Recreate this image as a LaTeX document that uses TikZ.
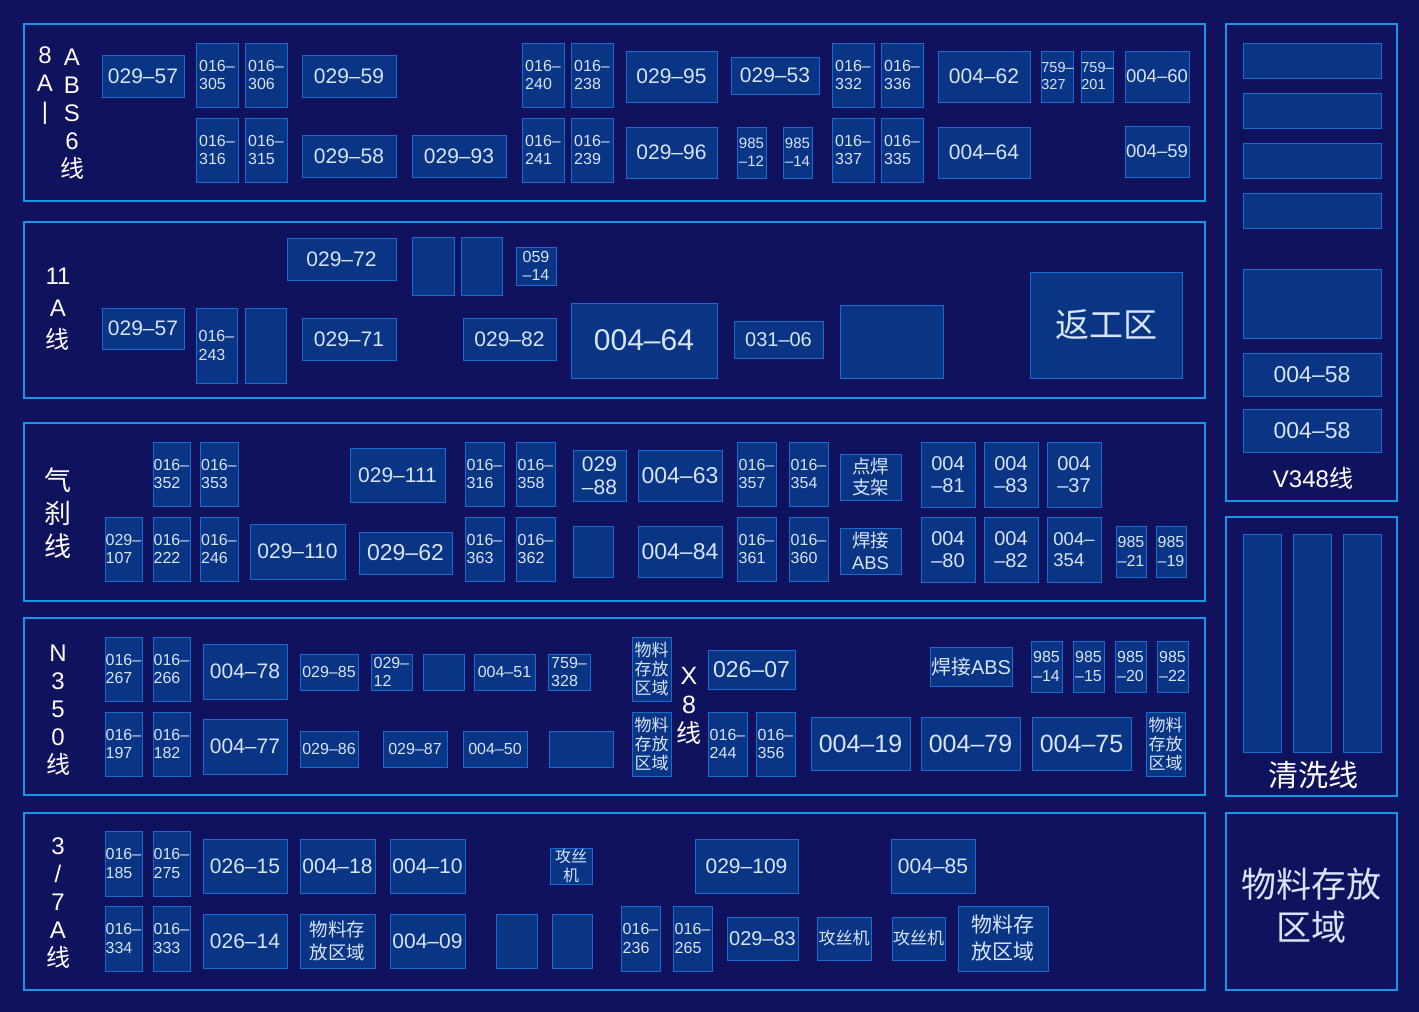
\documentclass[tikz,border=0pt]{standalone}
\usepackage{fontspec}
\setmainfont{Liberation Sans}
\newfontfamily\cjk{Noto Sans CJK SC}
\usepackage{tikz}
\usetikzlibrary{positioning}
\definecolor{bgnavy}{RGB}{16,18,94}
\definecolor{unitfill}{RGB}{10,52,132}
\definecolor{unitline}{RGB}{22,108,212}
\definecolor{panelline}{RGB}{22,150,232}
\definecolor{unittext}{RGB}{215,228,250}

\begin{document}
\begin{tikzpicture}[x=1pt,y=-1pt]
  % Styles for panels, machine boxes and line labels
  \tikzset{panel/.style={draw=panelline, line width=2pt}}
  \tikzset{unit/.style={draw=unitline, fill=unitfill, line width=1pt, inner sep=0pt, text=unittext, align=center}}
  \tikzset{dims/.style 2 args={minimum width=#1, minimum height=#2}}
  \tikzset{tag/.style={text=white, align=center, inner sep=0pt}}
  \tikzset{f14/.style={font=\fontsize{14.5}{17}\selectfont},
           f15/.style={font=\fontsize{15}{17.5}\selectfont},
           f16/.style={font=\fontsize{16}{18.5}\selectfont},
           f17/.style={font=\fontsize{17}{19}\selectfont},
           f18/.style={font=\fontsize{18.5}{21.5}\selectfont},
           f18w/.style={font=\fontsize{18.5}{23}\selectfont},
           f20/.style={font=\fontsize{20}{22}\selectfont},
           f21/.style={font=\fontsize{21}{23}\selectfont},
           f21w/.style={font=\fontsize{21}{27}\selectfont},
           f23/.style={font=\fontsize{23}{26}\selectfont},
           f25/.style={font=\fontsize{25}{28}\selectfont},
           f30/.style={font=\fontsize{30}{34}\selectfont},
           f34/.style={font=\fontsize{34}{40}\selectfont}}

  \fill[bgnavy] (0,0) rectangle (1419,1012);
  \useasboundingbox (0,0) rectangle (1419,1012);

  % Panels
  \draw[panel] (24,24) rectangle (1205,201);
  \draw[panel] (24,222) rectangle (1205,398);
  \draw[panel] (24,423) rectangle (1205,601);
  \draw[panel] (24,618) rectangle (1205,795);
  \draw[panel] (24,813) rectangle (1205,990);
  \draw[panel] (1226,24) rectangle (1397,501);
  \draw[panel] (1226,517) rectangle (1397,796);
  \draw[panel] (1226,813) rectangle (1397,990);

  % Row 1: 8A-ABS6
  \node[tag, font=\fontsize{24}{28}\selectfont] (r1_lab_a) at (45,86) {8\\A\\|};
  \node[tag, font=\fontsize{24}{28}\selectfont] (r1_lab_b) at (72,114) {A\\B\\S\\6\\{\cjk 线}};
  \node[unit, dims={82}{42}, f21] (r1_029_57) at (143,76) {029--57};
  \node[unit, dims={42}{64}, f16, align=left] (r1_016_305) at (217,75) {016--\\305};
  \node[unit, dims={42}{64}, f16, align=left] (r1_016_306) at (266,75) {016--\\306};
  \node[unit, dims={94}{42}, f21] (r1_029_59) at (349,76) {029--59};
  \node[unit, dims={42}{64}, f16, align=left] (r1_016_240) at (543,75) {016--\\240};
  \node[unit, dims={42}{64}, f16, align=left] (r1_016_238) at (592,75) {016--\\238};
  \node[unit, dims={91}{51}, f21] (r1_029_95) at (671.5,76.5) {029--95};
  \node[unit, dims={88}{37}, f21] (r1_029_53) at (775,75.5) {029--53};
  \node[unit, dims={42}{64}, f16, align=left] (r1_016_332) at (853,75) {016--\\332};
  \node[unit, dims={42}{64}, f16, align=left] (r1_016_336) at (902,75) {016--\\336};
  \node[unit, dims={92}{51}, f21] (r1_004_62) at (984,76.5) {004--62};
  \node[unit, dims={29}{51}, f14, align=left] (r1_759_327) at (1057.5,76.5) {759--\\327};
  \node[unit, dims={29}{51}, f14, align=left] (r1_759_201) at (1097.5,76.5) {759--\\201};
  \node[unit, dims={64}{51}, f18] (r1_004_60) at (1157,76.5) {004--60};
  \node[unit, dims={42}{64}, f16, align=left] (r1_016_316) at (217,150) {016--\\316};
  \node[unit, dims={42}{64}, f16, align=left] (r1_016_315) at (266,150) {016--\\315};
  \node[unit, dims={94}{42}, f21] (r1_029_58) at (349,156) {029--58};
  \node[unit, dims={94}{42}, f21] (r1_029_93) at (459,156) {029--93};
  \node[unit, dims={42}{64}, f16, align=left] (r1_016_241) at (543,150) {016--\\241};
  \node[unit, dims={42}{64}, f16, align=left] (r1_016_239) at (592,150) {016--\\239};
  \node[unit, dims={91}{51}, f21] (r1_029_96) at (671.5,152.5) {029--96};
  \node[unit, dims={29}{51}, f15] (r1_985_12) at (751.5,152.5) {985\\--12};
  \node[unit, dims={29}{51}, f15] (r1_985_14) at (797.5,152.5) {985\\--14};
  \node[unit, dims={42}{64}, f16, align=left] (r1_016_337) at (853,150) {016--\\337};
  \node[unit, dims={42}{64}, f16, align=left] (r1_016_335) at (902,150) {016--\\335};
  \node[unit, dims={92}{51}, f21] (r1_004_64) at (984,152.5) {004--64};
  \node[unit, dims={64}{51}, f18] (r1_004_59) at (1157,151.5) {004--59};

  % Row 2: 11A
  \node[tag, font=\fontsize{24}{32}\selectfont] (r2_lab) at (58,309.5) {11\\A\\{\cjk 线}};
  \node[unit, dims={109}{42}, f21] (r2_029_72) at (341.5,259) {029--72};
  \node[unit, dims={42}{58}] (r2_e1) at (433,266) {};
  \node[unit, dims={41}{58}] (r2_e2) at (481.5,266) {};
  \node[unit, dims={40}{38}, f16] (r2_059_14) at (536,266) {059\\--14};
  \node[unit, dims={82}{41}, f21] (r2_029_57) at (143,328.5) {029--57};
  \node[unit, dims={41}{75}, f16, align=left] (r2_016_243) at (216.5,345.5) {016--\\243};
  \node[unit, dims={41}{75}] (r2_e3) at (265.5,345.5) {};
  \node[unit, dims={94}{42}, f21] (r2_029_71) at (349,339) {029--71};
  \node[unit, dims={93}{42}, f21] (r2_029_82) at (509.5,339) {029--82};
  \node[unit, dims={146}{75}, f30] (r2_004_64) at (644,340.5) {004--64};
  \node[unit, dims={89}{37}, f20] (r2_031_06) at (778.5,339.5) {031--06};
  \node[unit, dims={103}{73}] (r2_e4) at (891.5,341.5) {};
  \node[unit, dims={152}{106}, f34] (r2_rework) at (1106,325) {\cjk 返工区};

  % Row 3: gas brake line
  \node[tag, font=\fontsize{27}{33}\selectfont] (r3_lab) at (58,513) {\cjk 气\\\cjk 刹\\\cjk 线};
  \node[unit, dims={37}{64}, f16, align=left] (r3_016_352) at (171.5,474) {016--\\352};
  \node[unit, dims={38}{64}, f16, align=left] (r3_016_353) at (219,474) {016--\\353};
  \node[unit, dims={95}{54}, f21] (r3_029_111) at (397.5,475) {029--111};
  \node[unit, dims={39}{64}, f16, align=left] (r3_016_316) at (484.5,474) {016--\\316};
  \node[unit, dims={39}{64}, f16, align=left] (r3_016_358) at (535.5,474) {016--\\358};
  \node[unit, dims={53}{51}, f21] (r3_029_88) at (599.5,475.5) {029\\--88};
  \node[unit, dims={84}{51}, f23] (r3_004_63) at (680,475.5) {004--63};
  \node[unit, dims={39}{64}, f16, align=left] (r3_016_357) at (756.5,474) {016--\\357};
  \node[unit, dims={39}{64}, f16, align=left] (r3_016_354) at (808.5,474) {016--\\354};
  \node[unit, dims={61}{46}, f18] (r3_spot) at (870.5,477) {\cjk 点焊\\\cjk 支架};
  \node[unit, dims={54}{65}, f20] (r3_004_81) at (948,474.5) {004\\--81};
  \node[unit, dims={54}{65}, f20] (r3_004_83) at (1011,474.5) {004\\--83};
  \node[unit, dims={54}{65}, f20] (r3_004_37) at (1074,474.5) {004\\--37};
  \node[unit, dims={37}{64}, f16, align=left] (r3_029_107) at (123.5,549) {029--\\107};
  \node[unit, dims={37}{64}, f16, align=left] (r3_016_222) at (171.5,549) {016--\\222};
  \node[unit, dims={38}{64}, f16, align=left] (r3_016_246) at (219,549) {016--\\246};
  \node[unit, dims={95}{55}, f21] (r3_029_110) at (297.5,551.5) {029--110};
  \node[unit, dims={93}{42}, f23] (r3_029_62) at (405.5,553) {029--62};
  \node[unit, dims={39}{64}, f16, align=left] (r3_016_363) at (484.5,549) {016--\\363};
  \node[unit, dims={39}{64}, f16, align=left] (r3_016_362) at (535.5,549) {016--\\362};
  \node[unit, dims={40}{51}] (r3_e1) at (593,551.5) {};
  \node[unit, dims={84}{51}, f23] (r3_004_84) at (680,551.5) {004--84};
  \node[unit, dims={39}{64}, f16, align=left] (r3_016_361) at (756.5,549) {016--\\361};
  \node[unit, dims={39}{64}, f16, align=left] (r3_016_360) at (808.5,549) {016--\\360};
  \node[unit, dims={61}{46}, f18] (r3_weld) at (870.5,551) {\cjk 焊接\\ABS};
  \node[unit, dims={54}{65}, f20] (r3_004_80) at (948,549.5) {004\\--80};
  \node[unit, dims={54}{65}, f20] (r3_004_82) at (1011,549.5) {004\\--82};
  \node[unit, dims={54}{65}, f18, align=left] (r3_004_354) at (1074,549.5) {004--\\354};
  \node[unit, dims={30}{51}, f16] (r3_985_21) at (1131,551.5) {985\\--21};
  \node[unit, dims={30}{51}, f16] (r3_985_19) at (1171,551.5) {985\\--19};

  % Row 4: N350 and X8
  \node[tag, font=\fontsize{24}{28}\selectfont] (r4_lab) at (58,710) {N\\3\\5\\0\\{\cjk 线}};
  \node[tag, font=\fontsize{25}{29}\selectfont] (r4_lab_x8) at (689,706) {X\\8\\{\cjk 线}};
  \node[unit, dims={37}{64}, f16, align=left] (r4_016_267) at (123.5,669) {016--\\267};
  \node[unit, dims={37}{64}, f16, align=left] (r4_016_266) at (171.5,669) {016--\\266};
  \node[unit, dims={84}{55}, f21] (r4_004_78) at (245,671.5) {004--78};
  \node[unit, dims={58}{36}, f16] (r4_029_85) at (329,672) {029--85};
  \node[unit, dims={41}{36}, f16, align=left] (r4_029_12) at (391.5,672) {029--\\12};
  \node[unit, dims={41}{36}] (r4_e1) at (443.5,672) {};
  \node[unit, dims={61}{36}, f16] (r4_004_51) at (504.5,672) {004--51};
  \node[unit, dims={42}{36}, f16, align=left] (r4_759_328) at (569,672) {759--\\328};
  \node[unit, dims={39}{64}, f17] (r4_store_a) at (651.5,669) {\cjk 物料\\\cjk 存放\\\cjk 区域};
  \node[unit, dims={87}{39}, f23] (r4_026_07) at (751.5,669.5) {026--07};
  \node[unit, dims={82}{39}, f20] (r4_weld) at (971,666.5) {{\cjk 焊接}ABS};
  \node[unit, dims={31}{51}, f16] (r4_985_14) at (1046.5,666.5) {985\\--14};
  \node[unit, dims={31}{51}, f16] (r4_985_15) at (1088.5,666.5) {985\\--15};
  \node[unit, dims={31}{51}, f16] (r4_985_20) at (1130.5,666.5) {985\\--20};
  \node[unit, dims={31}{51}, f16] (r4_985_22) at (1172.5,666.5) {985\\--22};
  \node[unit, dims={37}{64}, f16, align=left] (r4_016_197) at (123.5,744) {016--\\197};
  \node[unit, dims={37}{64}, f16, align=left] (r4_016_182) at (171.5,744) {016--\\182};
  \node[unit, dims={84}{55}, f21] (r4_004_77) at (245,746.5) {004--77};
  \node[unit, dims={58}{36}, f16] (r4_029_86) at (329,749) {029--86};
  \node[unit, dims={64}{36}, f16] (r4_029_87) at (415,749) {029--87};
  \node[unit, dims={64}{36}, f16] (r4_004_50) at (495,749) {004--50};
  \node[unit, dims={64}{36}] (r4_e2) at (581,749) {};
  \node[unit, dims={39}{64}, f17] (r4_store_b) at (651.5,744) {\cjk 物料\\\cjk 存放\\\cjk 区域};
  \node[unit, dims={39}{64}, f16, align=left] (r4_016_244) at (727.5,744) {016--\\244};
  \node[unit, dims={39}{64}, f16, align=left] (r4_016_356) at (775.5,744) {016--\\356};
  \node[unit, dims={99}{53}, f25] (r4_004_19) at (860.5,743.5) {004--19};
  \node[unit, dims={99}{53}, f25] (r4_004_79) at (970.5,743.5) {004--79};
  \node[unit, dims={99}{53}, f25] (r4_004_75) at (1081.5,743.5) {004--75};
  \node[unit, dims={39}{64}, f17] (r4_store_c) at (1165.5,744) {\cjk 物料\\\cjk 存放\\\cjk 区域};

  % Row 5: 3/7A
  \node[tag, font=\fontsize{24}{28}\selectfont] (r5_lab) at (58,903) {3\\/\\7\\A\\{\cjk 线}};
  \node[unit, dims={37}{65}, f16, align=left] (r5_016_185) at (123.5,863.5) {016--\\185};
  \node[unit, dims={37}{65}, f16, align=left] (r5_016_275) at (171.5,863.5) {016--\\275};
  \node[unit, dims={84}{54}, f21] (r5_026_15) at (245,866) {026--15};
  \node[unit, dims={75}{54}, f21] (r5_004_18) at (337.5,866) {004--18};
  \node[unit, dims={75}{54}, f21] (r5_004_10) at (427.5,866) {004--10};
  \node[unit, dims={42}{36}, f16] (r5_tap_a) at (571,866) {\cjk 攻丝\\\cjk 机};
  \node[unit, dims={103}{54}, f21] (r5_029_109) at (746.5,866) {029--109};
  \node[unit, dims={84}{54}, f21] (r5_004_85) at (933,866) {004--85};
  \node[unit, dims={37}{65}, f16, align=left] (r5_016_334) at (123.5,938.5) {016--\\334};
  \node[unit, dims={37}{65}, f16, align=left] (r5_016_333) at (171.5,938.5) {016--\\333};
  \node[unit, dims={84}{54}, f21] (r5_026_14) at (245,941) {026--14};
  \node[unit, dims={75}{54}, f18w] (r5_store_a) at (337.5,941) {\cjk 物料存\\\cjk 放区域};
  \node[unit, dims={75}{54}, f21] (r5_004_09) at (427.5,941) {004--09};
  \node[unit, dims={41}{54}] (r5_e1) at (516.5,941) {};
  \node[unit, dims={40}{54}] (r5_e2) at (572,941) {};
  \node[unit, dims={39}{65}, f16, align=left] (r5_016_236) at (640.5,938.5) {016--\\236};
  \node[unit, dims={39}{65}, f16, align=left] (r5_016_265) at (692.5,938.5) {016--\\265};
  \node[unit, dims={71}{43}, f20] (r5_029_83) at (762.5,938.5) {029--83};
  \node[unit, dims={54}{43}, f17] (r5_tap_b) at (844,938.5) {\cjk 攻丝机};
  \node[unit, dims={53}{43}, f17] (r5_tap_c) at (918.5,938.5) {\cjk 攻丝机};
  \node[unit, dims={90}{65}, f21w] (r5_store_b) at (1003,938.5) {\cjk 物料存\\\cjk 放区域};

  % V348 line
  \node[unit, dims={138}{35}] (v_e1) at (1312,60.5) {};
  \node[unit, dims={138}{35}] (v_e2) at (1312,110.5) {};
  \node[unit, dims={138}{35}] (v_e3) at (1312,160.5) {};
  \node[unit, dims={138}{35}] (v_e4) at (1312,210.5) {};
  \node[unit, dims={138}{69}] (v_e5) at (1312,303.5) {};
  \node[unit, dims={138}{43}, f23] (v_004_58a) at (1312,374.5) {004--58};
  \node[unit, dims={138}{43}, f23] (v_004_58b) at (1312,430.5) {004--58};
  \node[tag, font=\fontsize{24}{28}\selectfont] (v_lab) at (1313,478) {V348{\cjk 线}};

  % Cleaning line
  \node[unit, dims={38}{218}] (c_e1) at (1262,643) {};
  \node[unit, dims={38}{218}] (c_e2) at (1312,643) {};
  \node[unit, dims={38}{218}] (c_e3) at (1362,643) {};
  \node[tag, font=\fontsize{30}{34}\selectfont] (c_lab) at (1313,775) {\cjk 清洗线};

  % Material storage
  \node[tag, text=unittext, font=\fontsize{35}{43}\selectfont] (s_lab) at (1311,906) {\cjk 物料存放\\\cjk 区域};
\end{tikzpicture}
\end{document}
